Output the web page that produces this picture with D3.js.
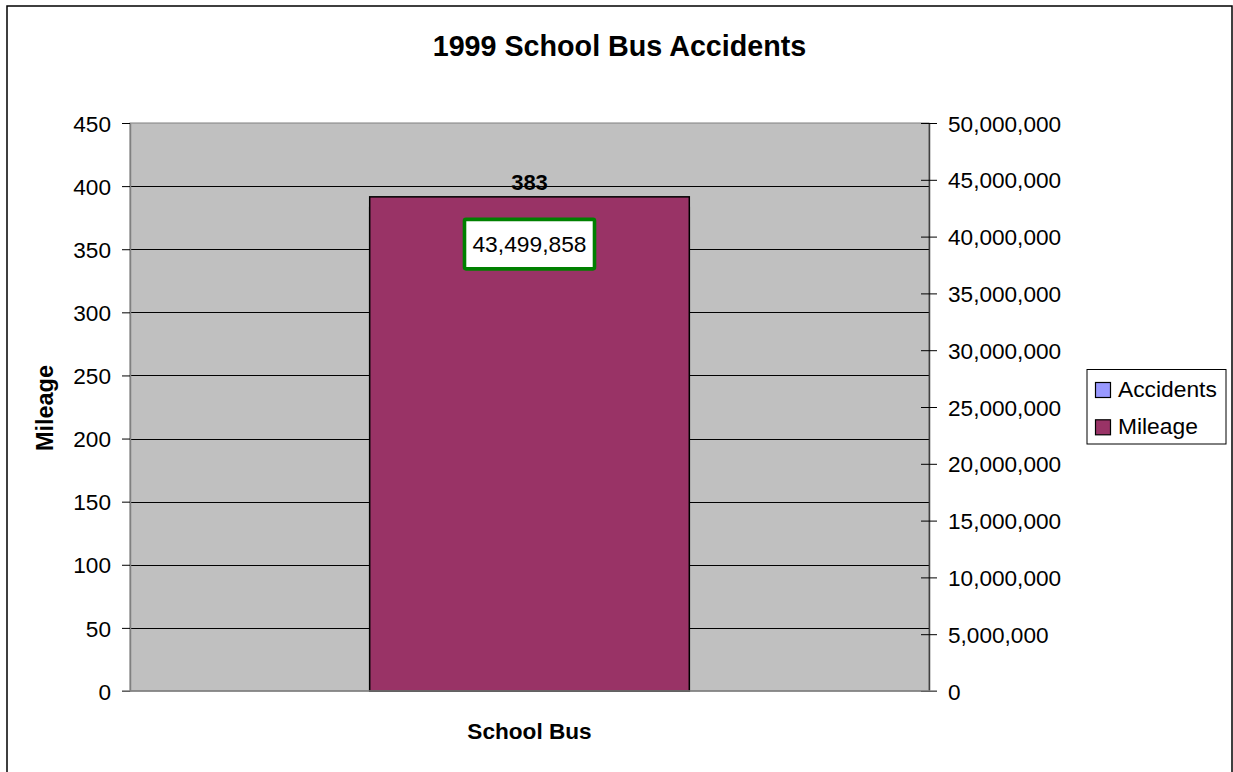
<!DOCTYPE html>
<html>
<head>
<meta charset="utf-8">
<script src="https://cdn.jsdelivr.net/npm/d3@7"></script>
<style>
  html, body { margin: 0; padding: 0; background: #fff; }
  svg { display: block; font-family: "Liberation Sans", Arial, sans-serif; }
</style>
</head>
<body>
<svg id="chart" width="1233" height="772"></svg>
<script>
const categories = ["School Bus"];
const seriesNames = ["Accidents", "Mileage"];
const seriesColors = ["#9999FF", "#993366"];
const accidents = [383];
const mileage = [43499858];
const leftTicks = [0, 50, 100, 150, 200, 250, 300, 350, 400, 450];
const rightTicks = [0, 5000000, 10000000, 15000000, 20000000, 25000000, 30000000, 35000000, 40000000, 45000000, 50000000];

const svg = d3.select("#chart");
const W = 1233, H = 772;
const plot = { left: 130, right: 929, top: 123, bottom: 691 };

// outer chart border
svg.append("rect").attr("x", 7).attr("y", 6).attr("width", 1225).attr("height", 780)
  .attr("fill", "#fff").attr("stroke", "#000").attr("stroke-width", 1.5);

const x = d3.scaleBand().domain(categories).range([plot.left, plot.right]);
const yL = d3.scaleLinear().domain([0, 450]).range([plot.bottom, plot.top]);
const yR = d3.scaleLinear().domain([0, 50000000]).range([plot.bottom, plot.top]);

// plot area
svg.append("rect").attr("x", plot.left).attr("y", plot.top)
  .attr("width", plot.right - plot.left).attr("height", plot.bottom - plot.top)
  .attr("fill", "#C0C0C0").attr("stroke", "#808080").attr("stroke-width", 1);

// gridlines (left axis)
svg.append("g").selectAll("line").data(leftTicks.filter(d => d > 0 && d < 450)).join("line")
  .attr("x1", plot.left).attr("x2", plot.right)
  .attr("y1", d => Math.round(yL(d)) + 0.5).attr("y2", d => Math.round(yL(d)) + 0.5)
  .attr("stroke", "#000").attr("stroke-width", 1);

// bars
const bw = x.bandwidth() * 0.4;
const bx = c => x(c) + (x.bandwidth() - bw) / 2;
svg.append("g").selectAll("rect").data(categories).join("rect")
  .attr("x", c => bx(c)).attr("width", bw)
  .attr("y", (c, i) => yL(accidents[i])).attr("height", (c, i) => plot.bottom - yL(accidents[i]))
  .attr("fill", seriesColors[0]).attr("stroke", "#000").attr("stroke-width", 1.5);
svg.append("g").selectAll("rect").data(categories).join("rect")
  .attr("x", c => bx(c)).attr("width", bw)
  .attr("y", (c, i) => yR(mileage[i])).attr("height", (c, i) => plot.bottom - yR(mileage[i]))
  .attr("fill", seriesColors[1]).attr("stroke", "#000").attr("stroke-width", 1.5);

// left axis
const gL = svg.append("g").attr("transform", `translate(${plot.left},0)`)
  .call(d3.axisLeft(yL).tickValues(leftTicks).tickSizeInner(8).tickSizeOuter(0).tickPadding(11).tickFormat(d3.format("d")));
gL.select(".domain").attr("stroke", "#808080").attr("stroke-width", 1.5);
gL.selectAll(".tick line").attr("stroke", "#000");
gL.selectAll("text").attr("font-size", "22.6px").attr("fill", "#000")
  .attr("font-family", "Liberation Sans, Arial, sans-serif").attr("dy", "0.36em");

// right axis
const gR = svg.append("g").attr("transform", `translate(${plot.right},0)`)
  .call(d3.axisRight(yR).tickValues(rightTicks).tickSizeInner(8).tickSizeOuter(0).tickPadding(11).tickFormat(d3.format(",")));
gR.select(".domain").attr("stroke", "#404040").attr("stroke-width", 1.5);
gR.selectAll(".tick line").attr("x1", -8).attr("x2", 8).attr("stroke", "#000");
gR.selectAll("text").attr("font-size", "22.6px").attr("fill", "#000")
  .attr("font-family", "Liberation Sans, Arial, sans-serif").attr("dy", "0.36em");

// bottom axis line
svg.append("line").attr("x1", plot.left - 8).attr("x2", plot.right + 8)
  .attr("y1", plot.bottom).attr("y2", plot.bottom)
  .attr("stroke", "#808080").attr("stroke-width", 1.5);

// category labels
svg.append("g").selectAll("text").data(categories).join("text")
  .attr("x", c => x(c) + x.bandwidth() / 2).attr("y", 739)
  .attr("text-anchor", "middle").attr("font-weight", "bold").attr("font-size", "22.6px")
  .text(c => c);

// data labels
svg.append("g").selectAll("text").data(categories).join("text")
  .attr("x", c => x(c) + x.bandwidth() / 2).attr("y", (c, i) => yL(accidents[i]) - 17.5)
  .attr("text-anchor", "middle").attr("font-weight", "bold").attr("font-size", "22px")
  .text((c, i) => accidents[i]);

const lbl = svg.append("g").selectAll("g").data(categories).join("g");
lbl.append("rect")
  .attr("x", c => x(c) + x.bandwidth() / 2 - 65).attr("width", 130)
  .attr("y", (c, i) => yR(mileage[i]) + 22.5).attr("height", 49.5)
  .attr("rx", 1.5)
  .attr("fill", "#fff").attr("stroke", "#008000").attr("stroke-width", 3.6);
lbl.append("text")
  .attr("x", c => x(c) + x.bandwidth() / 2).attr("y", (c, i) => yR(mileage[i]) + 55)
  .attr("text-anchor", "middle").attr("font-size", "22.8px")
  .text((c, i) => d3.format(",")(mileage[i]));

// title
svg.append("text").attr("x", 619.5).attr("y", 56).attr("text-anchor", "middle")
  .attr("font-weight", "bold").attr("font-size", "28.7px").text("1999 School Bus Accidents");

// y axis title
svg.append("text").attr("transform", "translate(53,408) rotate(-90)")
  .attr("text-anchor", "middle").attr("font-weight", "bold").attr("font-size", "23.4px").text("Mileage");

// legend
const lg = svg.append("g");
lg.append("rect").attr("x", 1087).attr("y", 369.5).attr("width", 139).attr("height", 74.5)
  .attr("fill", "#fff").attr("stroke", "#000").attr("stroke-width", 1);
const li = lg.selectAll("g.item").data(seriesNames).join("g").attr("class", "item")
  .attr("transform", (d, i) => `translate(0, ${i * 37.3})`);
li.append("rect").attr("x", 1095.5).attr("y", 382.5).attr("width", 15).attr("height", 15)
  .attr("fill", (d, i) => seriesColors[i]).attr("stroke", "#000").attr("stroke-width", 1.2);
li.append("text").attr("x", 1118).attr("y", 397).attr("font-size", "22.8px").text(d => d);
</script>
</body>
</html>
